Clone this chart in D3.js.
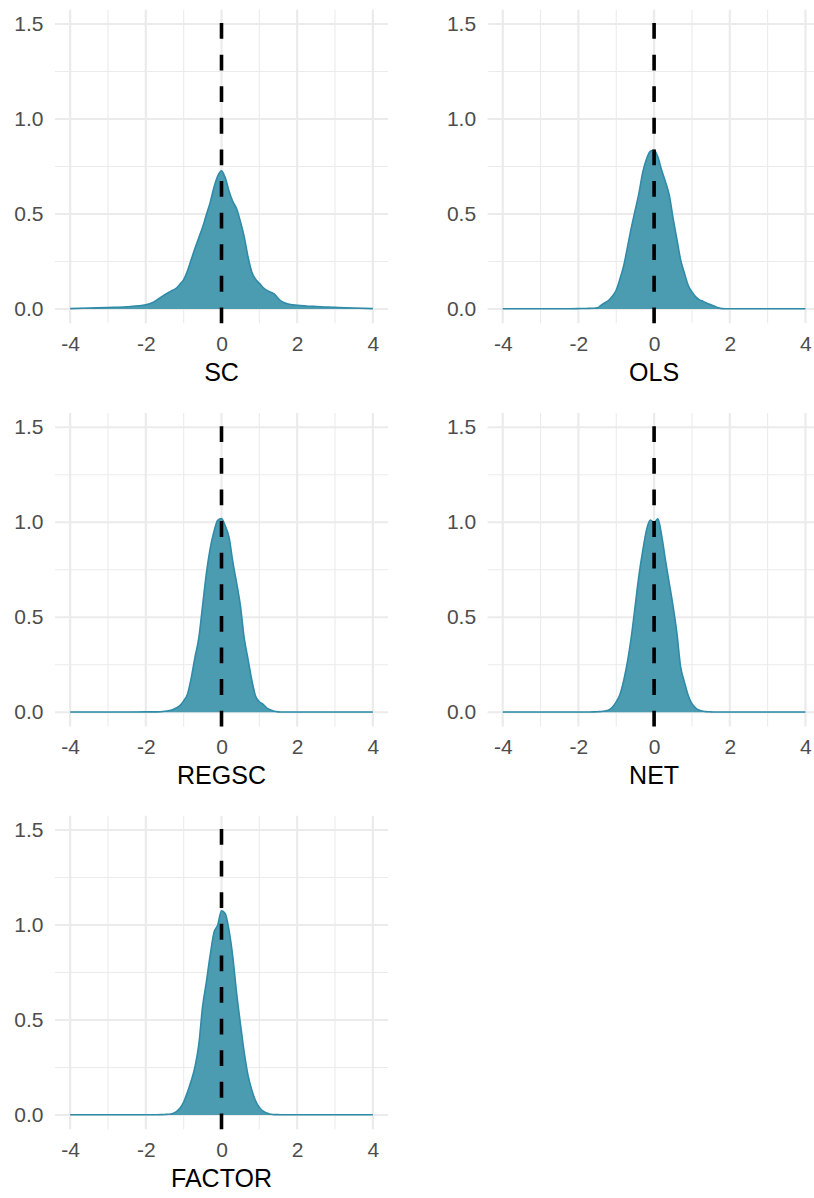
<!DOCTYPE html>
<html>
<head>
<meta charset="utf-8">
<script src="https://cdn.jsdelivr.net/npm/d3@7"></script>
<style>
  body { margin: 0; background: #fff; }
  svg { display: block; font-family: "Liberation Sans", Arial, sans-serif; }
  .grid line { stroke: #ebebeb; }
</style>
</head>
<body>
<svg width="814" height="1198"></svg>
<script>
// shared evaluation points of the density estimates
var densityX = [-4, -3.5, -3, -2.5, -2, -1.8, -1.6, -1.5, -1.4, -1.3, -1.2, -1.1, -1.0,
  -0.9, -0.8, -0.7, -0.6, -0.5, -0.4, -0.3, -0.2, -0.1, 0, 0.1, 0.2, 0.3, 0.4, 0.5,
  0.6, 0.7, 0.8, 0.9, 1.0, 1.1, 1.2, 1.3, 1.4, 1.5, 1.6, 1.7, 1.8, 2, 2.5, 3, 3.5, 4];

var scDensity = [0.002, 0.005, 0.008, 0.012, 0.022, 0.036, 0.062, 0.075, 0.087, 0.097, 0.108, 0.13, 0.155,
  0.2, 0.26, 0.32, 0.375, 0.43, 0.496, 0.56, 0.64, 0.7, 0.728, 0.69, 0.62, 0.565, 0.528, 0.46,
  0.38, 0.275, 0.195, 0.157, 0.135, 0.113, 0.098, 0.088, 0.078, 0.055, 0.039, 0.03, 0.025, 0.02, 0.013, 0.009, 0.005, 0.002];

var olsDensity = [0.001, 0.001, 0.001, 0.001, 0.002, 0.003, 0.004, 0.006, 0.02, 0.033, 0.045, 0.068, 0.1,
  0.16, 0.23, 0.33, 0.43, 0.52, 0.61, 0.72, 0.79, 0.83, 0.835, 0.8, 0.73, 0.67, 0.6, 0.48,
  0.37, 0.26, 0.19, 0.125, 0.09, 0.064, 0.048, 0.04, 0.03, 0.022, 0.014, 0.006, 0.002, 0.001, 0.001, 0.001, 0.001, 0.001];

var regscDensity = [0.001, 0.001, 0.001, 0.001, 0.002, 0.002, 0.003, 0.005, 0.008, 0.013, 0.022, 0.035, 0.06,
  0.095, 0.18, 0.29, 0.39, 0.56, 0.73, 0.86, 0.95, 1.01, 1.02, 0.98, 0.92, 0.79, 0.68, 0.56,
  0.39, 0.28, 0.17, 0.085, 0.055, 0.042, 0.022, 0.012, 0.005, 0.002, 0.001, 0.001, 0.001, 0.001, 0.001, 0.001, 0.001, 0.001];

var netDensity = [0.001, 0.001, 0.001, 0.001, 0.001, 0.001, 0.002, 0.003, 0.004, 0.007, 0.012, 0.028, 0.055,
  0.095, 0.17, 0.27, 0.4, 0.56, 0.72, 0.85, 0.96, 1.012, 0.998, 1.018, 0.93, 0.8, 0.68, 0.56,
  0.42, 0.24, 0.16, 0.09, 0.045, 0.022, 0.01, 0.005, 0.003, 0.002, 0.001, 0.001, 0.001, 0.001, 0.001, 0.001, 0.001, 0.001];

var factorDensity = [0.001, 0.001, 0.001, 0.001, 0.001, 0.001, 0.002, 0.003, 0.004, 0.007, 0.016, 0.035, 0.068,
  0.12, 0.18, 0.254, 0.37, 0.57, 0.7, 0.84, 0.96, 1.0, 1.075, 1.06, 0.97, 0.83, 0.64, 0.48,
  0.33, 0.21, 0.132, 0.075, 0.04, 0.02, 0.01, 0.004, 0.002, 0.002, 0.001, 0.001, 0.001, 0.001, 0.001, 0.001, 0.001, 0.001];

var panelNames = ["SC", "OLS", "REGSC", "NET", "FACTOR"];
var panelDensities = [scDensity, olsDensity, regscDensity, netDensity, factorDensity];

var xTicks = [-4, -2, 0, 2, 4];
var xMinor = [-3, -1, 1, 3];
var yTicks = [0, 0.5, 1.0, 1.5];
var yMinor = [0.25, 0.75, 1.25];

var svg = d3.select("svg"),
    panelW = 333,
    panelH = 313.5,
    colLeft = [55, 487.6],
    rowTop = [9.75, 413, 815.75];

var x = d3.scaleLinear().domain([-4.4, 4.4]).range([0, panelW]);
var y = d3.scaleLinear().domain([-0.075, 1.575]).range([panelH, 0]);

var area = d3.area()
    .x(function(d) { return x(d[0]); })
    .y0(y(0))
    .y1(function(d) { return y(d[1]); })
    .curve(d3.curveMonotoneX);
var line = d3.line()
    .x(function(d) { return x(d[0]); })
    .y(function(d) { return y(d[1]); })
    .curve(d3.curveMonotoneX);

// plain hyphen for negatives, like the original
var xFormat = function(d) { return String(d); };

panelNames.forEach(function(name, i) {
    var g = svg.append("g")
        .attr("transform", "translate(" + colLeft[i % 2] + "," + rowTop[Math.floor(i / 2)] + ")");

    var grid = g.append("g").attr("class", "grid");
    grid.selectAll(".ymin").data(yMinor).enter().append("line")
        .attr("x1", 0).attr("x2", panelW)
        .attr("y1", y).attr("y2", y)
        .attr("stroke-width", 1.1);
    grid.selectAll(".xmin").data(xMinor).enter().append("line")
        .attr("y1", 0).attr("y2", panelH)
        .attr("x1", x).attr("x2", x)
        .attr("stroke-width", 1.1);
    grid.selectAll(".ymaj").data(yTicks).enter().append("line")
        .attr("x1", 0).attr("x2", panelW)
        .attr("y1", y).attr("y2", y)
        .attr("stroke-width", 2.2);
    grid.selectAll(".xmaj").data(xTicks).enter().append("line")
        .attr("y1", 0).attr("y2", panelH)
        .attr("x1", x).attr("x2", x)
        .attr("stroke-width", 2.2);

    var pts = densityX.map(function(v, k) { return [v, panelDensities[i][k]]; });
    g.append("path")
        .datum(pts)
        .attr("fill", "#4b9cb1")
        .attr("d", area);
    g.append("path")
        .datum(pts)
        .attr("fill", "none")
        .attr("stroke", "#2f8ba8")
        .attr("stroke-width", 1.6)
        .attr("d", line);

    // dashed reference line at zero, drawn bottom to top
    g.append("line")
        .attr("x1", x(0)).attr("x2", x(0))
        .attr("y1", panelH).attr("y2", 0)
        .attr("stroke", "#000")
        .attr("stroke-width", 3.6)
        .attr("stroke-dasharray", "15.8,15.8");

    var xAxis = g.append("g")
        .attr("transform", "translate(0," + panelH + ")")
        .call(d3.axisBottom(x).tickValues(xTicks).tickSize(0).tickPadding(13).tickFormat(xFormat));
    var yAxis = g.append("g")
        .call(d3.axisLeft(y).tickValues(yTicks).tickSize(0).tickPadding(11.5).tickFormat(d3.format(".1f")));
    xAxis.select(".domain").remove();
    yAxis.select(".domain").remove();
    g.selectAll(".tick text")
        .style("font-family", "'Liberation Sans', Arial, sans-serif")
        .style("font-size", "21px")
        .style("fill", "#4d4d4d");

    g.append("text")
        .attr("x", panelW / 2)
        .attr("y", panelH + 57.5)
        .attr("text-anchor", "middle")
        .style("font-size", "25px")
        .attr("fill", "#000")
        .text(name);
});
</script>
</body>
</html>
